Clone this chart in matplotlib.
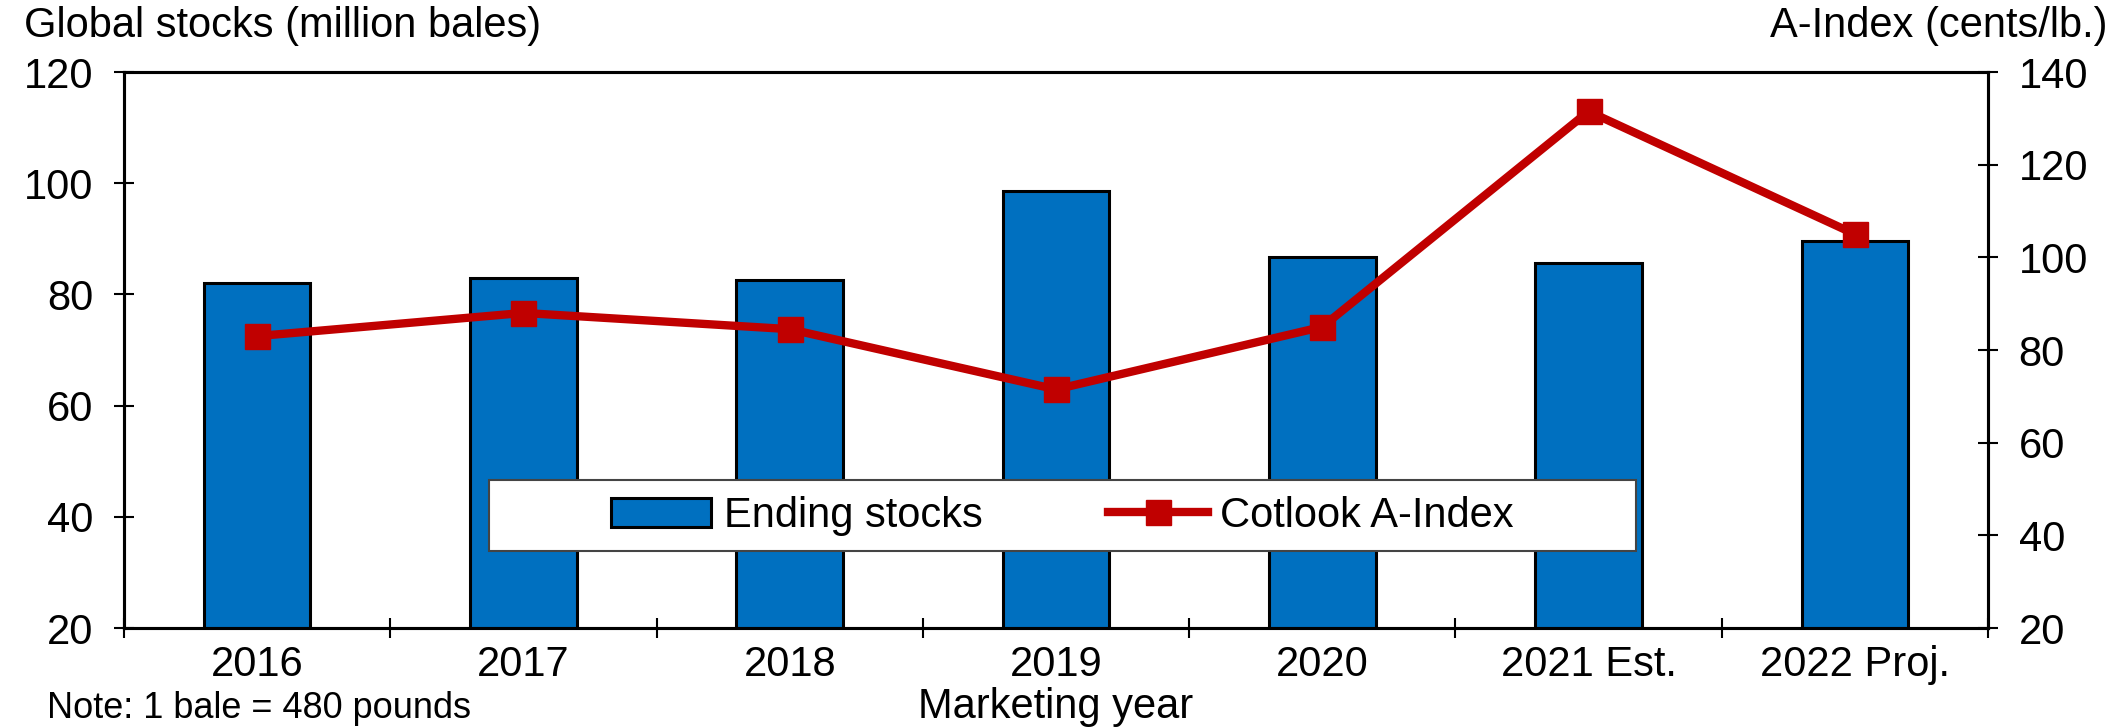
import numpy as np
import matplotlib
matplotlib.use('Agg')
import matplotlib.pyplot as plt
from matplotlib.patches import Rectangle

# Data
years = ['2016', '2017', '2018', '2019', '2020', '2021 Est.', '2022 Proj.']
ending_stocks = [82.0, 83.0, 82.6, 98.6, 86.8, 85.6, 89.6]   # million bales
a_index = [83.0, 88.0, 84.5, 71.5, 85.0, 131.5, 105.0]        # cents/lb

plt.rcParams['font.family'] = ['Liberation Sans', 'DejaVu Sans']
FS = 30

W, H = 2118, 727
fig = plt.figure(figsize=(W / 100, H / 100), dpi=100)
# axes box in pixels: left 124, right 1988, top 72, bottom 628
ax = fig.add_axes([124 / W, 1 - 628 / H, (1988 - 124) / W, (628 - 72) / H])
ax2 = ax.twinx()

x = np.arange(len(years))
bars = ax.bar(x, ending_stocks, width=0.40, color='#0070C0', edgecolor='black',
              linewidth=2.2, label='Ending stocks', zorder=2)
ax.set_ylim(20, 120)
ax.set_yticks(np.arange(20, 121, 20))
ax.set_xlim(-0.5, len(years) - 0.5)
ax.set_xticks(x)
ax.set_xticklabels(years)
ax.set_xticks(np.arange(-0.5, len(years), 1.0), minor=True)
ax.tick_params(axis='x', which='major', length=0, pad=12, labelsize=FS)
ax.tick_params(axis='x', which='minor', direction='inout', length=14, width=1.5)
ax.tick_params(axis='y', direction='inout', length=14, width=1.5, labelsize=FS, pad=15)

line, = ax2.plot(x, a_index, color='#C00000', linewidth=6, marker='s',
                 markersize=18, label='Cotlook A-Index', zorder=3)
ax2.set_ylim(20, 140)
ax2.set_yticks(np.arange(20, 141, 20))
ax2.tick_params(axis='y', direction='inout', length=14, width=1.5, labelsize=FS, pad=15)

for a in (ax, ax2):
    for s in a.spines.values():
        s.set_linewidth(2.2)
ax.set_zorder(1)
ax2.set_zorder(2)
ax2.patch.set_visible(False)

ax.set_xlabel('Marketing year', fontsize=FS, labelpad=2)

# legend box
ax2.add_patch(Rectangle((0.196, 0.138), 0.615, 0.128, transform=ax2.transAxes,
                        facecolor='white', edgecolor='#444444', linewidth=1.5,
                        zorder=4))
leg = ax2.legend([bars, line], ['Ending stocks', 'Cotlook A-Index'], ncol=2,
                 loc='center', bbox_to_anchor=(0.5035, 0.202),
                 fontsize=FS, frameon=False, handlelength=2.4,
                 handletextpad=0.3, columnspacing=3.0, borderaxespad=0)
leg.set_zorder(5)

fig.text(24 / W, 1 - 26 / H, 'Global stocks (million bales)', fontsize=FS,
         ha='left', va='center')
fig.text(2108 / W, 1 - 26 / H, 'A-Index (cents/lb.)', fontsize=FS,
         ha='right', va='center')
fig.text(47 / W, 1 / H, 'Note: 1 bale = 480 pounds', fontsize=FS - 4,
         ha='left', va='bottom')

fig.savefig('out.png', dpi=100)
